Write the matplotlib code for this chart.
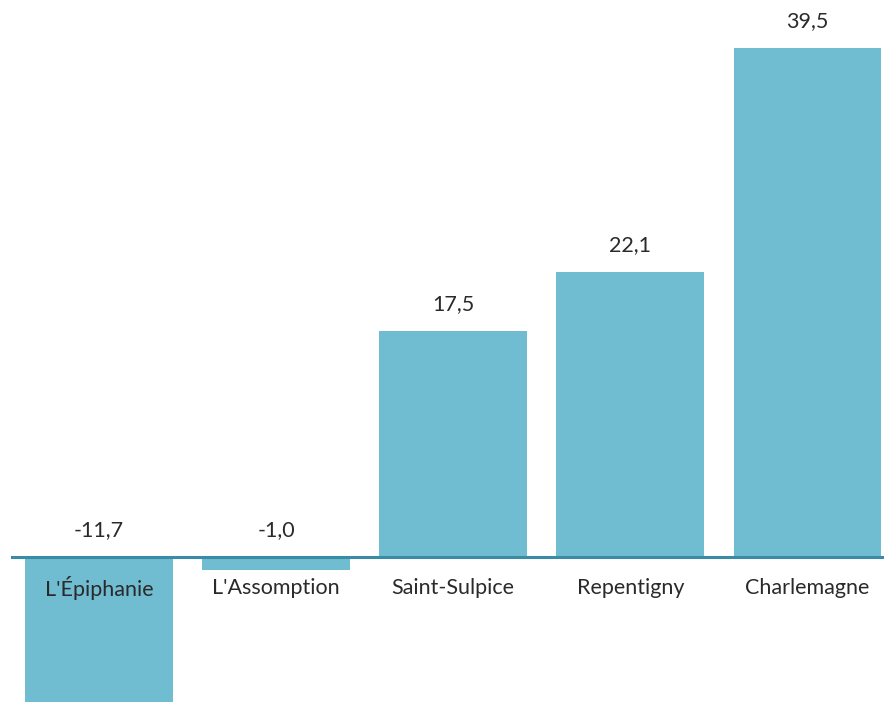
import numpy as np
import matplotlib.pyplot as plt

# data
categories = ["L'Épiphanie", "L'Assomption", "Saint-Sulpice", "Repentigny", "Charlemagne"]
values = [-11.7, -1.0, 17.5, 22.1, 39.5]
value_labels = ["-11,7", "-1,0", "17,5", "22,1", "39,5"]

plt.rcParams['font.family'] = ['Lato', 'DejaVu Sans']

fig = plt.figure(figsize=(8.84, 7.02), dpi=100)
# axes runs a bit past the right edge, like the original
ax = fig.add_axes([10.5 / 884, 0, 885.5 / 884, 1])

x = np.arange(len(categories))
ax.bar(x, values, width=0.835, color='#70bcd1', zorder=2)
ax.axhline(0, color='#3a8ca6', linewidth=2.2, zorder=3)

ax.set_xlim(-0.5, 4.5)
ax.set_ylim(-11.25, 43.21)

# px per unit ~12.89
for i, v in enumerate(values):
    top = max(v, 0)
    ax.text(i, top + 2.1, value_labels[i], ha='center', va='center',
            fontsize=15.5, color='#2a2a2a')
    ax.text(i, -2.4, categories[i], ha='center', va='center',
            fontsize=15.5, color='#2a2a2a', zorder=4)

ax.axis('off')
fig.savefig('out.png', dpi=100)
